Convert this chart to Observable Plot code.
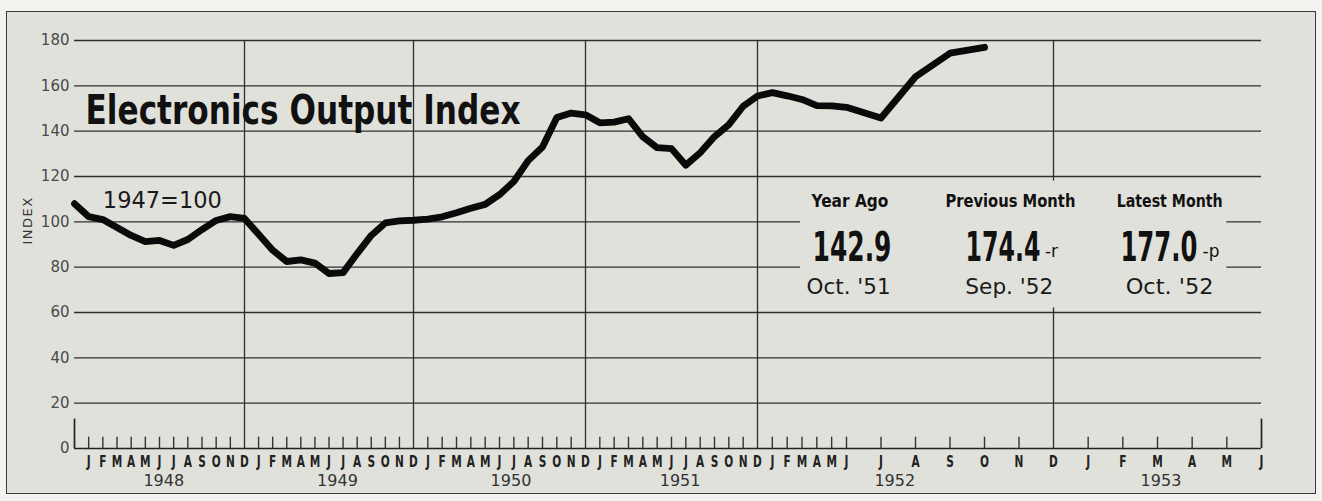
<!DOCTYPE html>
<html><head><meta charset="utf-8">
<script src="https://cdn.jsdelivr.net/npm/d3@7"></script>
<script src="https://cdn.jsdelivr.net/npm/@observablehq/plot@0.6"></script>
<style>
html,body{margin:0;padding:0;background:#f2f2ef;}
#wrap{position:relative;width:1322px;height:501px;overflow:hidden;}
#paper{position:absolute;left:6px;top:11px;width:1310px;height:483px;background:#e1e1db;border:1.6px solid #3a3a3a;box-sizing:border-box;}
#chart{position:absolute;left:0;top:0;}
</style></head><body>
<div id="wrap"><div id="paper"></div><div id="chart"></div></div>
<script>
// ---- data ----
const monthLetters = ["J","F","M","A","M","J","J","A","S","O","N","D"];
const yearLabels = ["1948","1949","1950","1951","1952","1953"];
const yTicks = [0,20,40,60,80,100,120,140,160,180];
// Electronics output index, monthly (1947 = 100)
const dec1947 = 108;
const v1948 = [102.3,101,97.5,94,91.3,91.8,89.6,92.2,96.6,100.6,102.3,101.5];
const v1949 = [94.5,87.5,82.5,83.2,81.8,77.2,77.6,86,94,99.5,100.4,100.7];
const v1950 = [101.2,102.2,104,106,107.7,112,117.8,127,133,146,148,147.2];
const v1951 = [143.7,144,145.5,137.5,132.7,132.3,125,130.5,137.6,142.9,151,155.5];
const v1952 = [157,155.6,154,151.3,151.2,150.5,145.8,164,174.4,177.0];
const statHeads = ["Year Ago","Previous Month","Latest Month"];
const statValues = [142.9,174.4,177.0];
const statFlags = ["","-r","-p"];
const statDates = ["Oct. '51","Sep. '52","Oct. '52"];

const values = [dec1947, ...v1948, ...v1949, ...v1950, ...v1951, ...v1952];
const series = values.map((v, i) => ({i, v}));   // i = months since Dec 1947

const paper = "#e1e1db";
const ink = "#111";
const grid = "#2e2e2e";

const plot = Plot.plot({
  width: 1322, height: 501,
  marginLeft: 74, marginRight: 61, marginTop: 40, marginBottom: 53,
  style: {background: "transparent", fontFamily: "'DejaVu Sans', sans-serif", color: ink, overflow: "visible"},
  x: {type: "linear", domain: [0,12,24,36,48,54,60,66], range: [74,244,413,585,757,846,1053,1261]},
  y: {domain: [0,180], range: [448,40]},
  marks: [
    Plot.ruleY(yTicks.filter(d => d > 0), {x1: 0, x2: 66, stroke: grid, strokeWidth: 1.3}),
    Plot.ruleX([12,24,36,48,60], {y1: 0, y2: 180, stroke: grid, strokeWidth: 1.3}),
    Plot.rect([0], {x1: 50.9, x2: 65, y1: 62, y2: 118, fill: paper}),
    Plot.ruleY([0], {x1: 0, x2: 66, stroke: "#222", strokeWidth: 1.7}),
    Plot.ruleX(d3.range(1, 66).filter(i => i % 12 !== 0), {y1: 0, y2: 5, stroke: "#333", strokeWidth: 1.4}),
    Plot.ruleX([0, 66], {y1: 0, y2: 13, stroke: "#222", strokeWidth: 1.7}),
    Plot.line(series, {x: "i", y: "v", stroke: "#0a0a0a", strokeWidth: 6.8, strokeLinejoin: "round", strokeLinecap: "round"}),
    Plot.axisY({ticks: yTicks, tickSize: 0, tickPadding: 5, fontSize: 15, fill: "#4a4a4a", label: null}),
    Plot.axisX({ticks: d3.range(1, 67), tickFormat: i => monthLetters[(i - 1) % 12], tickSize: 0, tickPadding: 7, fontSize: 16, fontWeight: "bold", fill: "#222", label: null}),
    Plot.text(yearLabels, {x: [6.3,18.6,30.8,42.6,55.4,63.1], frameAnchor: "bottom", dy: 37, fontSize: 16, fill: "#333"}),
    Plot.text(["INDEX"], {frameAnchor: "left", dx: -47, rotate: -90, fontSize: 13, fill: "#333", className: "idx"}),
    Plot.text(["1947=100"], {x: 2, y: 109.5, textAnchor: "start", fontSize: 22.5, fill: "#1a1a1a"}),
    Plot.text(["Electronics Output Index"], {x: 0.78, y: 149, textAnchor: "start", fontSize: 41, fontWeight: "bold", fill: ink, className: "ttl"}),
    Plot.text(statHeads, {x: [54.1,58.75,63.35], y: 109, fontSize: 17, fontWeight: "bold", fill: ink, className: "heads"}),
    Plot.text(statValues, {x: [51.71,57.45,61.93], y: 88.5, text: d => d.toFixed(1), textAnchor: "start", fontSize: 40, fontWeight: "bold", fill: ink, className: "nums"}),
    Plot.text(statFlags, {x: [0,59.75,64.3], y: 87, textAnchor: "start", fontSize: 17, fill: ink}),
    Plot.text(statDates, {x: [54.06,58.72,63.35], y: 71, fontSize: 21, fill: "#1a1a1a", className: "dates"})
  ]
});
document.getElementById("chart").append(plot);

function fit(sel, widths) {
  plot.querySelectorAll(sel + " text").forEach((t, k) => {
    t.setAttribute("textLength", widths[k]);
    t.setAttribute("lengthAdjust", "spacingAndGlyphs");
  });
}
function squeeze(sel, f) {
  plot.querySelectorAll(sel).forEach(t => {
    const w = t.getComputedTextLength();
    t.setAttribute("textLength", w * f);
    t.setAttribute("lengthAdjust", "spacingAndGlyphs");
  });
}
fit(".ttl", [435]);
fit(".heads", [77,130,106]);
fit(".dates", [84,88,88]);
// big numbers: condense horizontally with a transform so their boxes stay true
const numWidths = [79,75,77];
plot.querySelectorAll(".nums text").forEach((t, k) => {
  const w = t.getComputedTextLength();
  const f = numWidths[k] / w;
  const tr = t.getAttribute("transform");
  if (tr) t.setAttribute("transform", tr + ` scale(${f},1)`);
  else {
    const x = +t.getAttribute("x") || 0;
    t.setAttribute("transform", `translate(${x * (1 - f)},0) scale(${f},1)`);
  }
});
squeeze('g[aria-label="x-axis tick label"] text', 0.66);
plot.querySelectorAll(".idx text").forEach(t => t.setAttribute("letter-spacing", "1.5"));
</script>
</body></html>
